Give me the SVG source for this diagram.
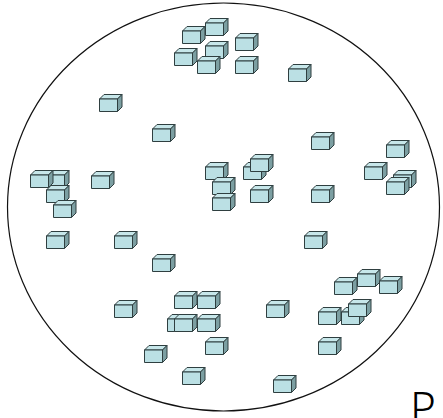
<svg xmlns="http://www.w3.org/2000/svg" xmlns:xlink="http://www.w3.org/1999/xlink" width="443" height="418" viewBox="0 0 443 418">
<style>
.face{fill:#bbe0e4;stroke:#2f3f40;stroke-width:1;stroke-linejoin:round}
.side{fill:#7c9fa2;stroke:#2f3f40;stroke-width:1;stroke-linejoin:round}
.top{fill:#c7e7ea;stroke:#2f3f40;stroke-width:1;stroke-linejoin:round}
.boundary{fill:none;stroke:#111;stroke-width:1.2}
.label{font-family:"Noto Sans","Liberation Sans",sans-serif;font-size:44px;font-weight:300;fill:#000}
</style>
<defs>
<g id="cube">
<polygon class="top" points="0.5,5 5,0.5 23,0.5 18.5,5"/>
<polygon class="side" points="18.5,5 23,0.5 23,13 18.5,17.5"/>
<rect class="face" x="0.5" y="5" width="18" height="12.5"/>
</g>
</defs>
<g id="region">
<ellipse class="boundary" cx="223.5" cy="207" rx="216" ry="204"/>
</g>
<g id="connectors"></g>
<g id="cubes">
<g id="c1"><use xlink:href="#cube" x="182" y="26"/></g>
<g id="c2"><use xlink:href="#cube" x="205" y="18"/></g>
<g id="c3"><use xlink:href="#cube" x="174" y="48"/></g>
<g id="c4"><use xlink:href="#cube" x="205" y="41"/></g>
<g id="c5"><use xlink:href="#cube" x="197" y="56"/></g>
<g id="c6"><use xlink:href="#cube" x="235" y="33"/></g>
<g id="c7"><use xlink:href="#cube" x="235" y="56"/></g>
<g id="c8"><use xlink:href="#cube" x="288" y="64"/></g>
<g id="c9"><use xlink:href="#cube" x="99" y="94"/></g>
<g id="c10"><use xlink:href="#cube" x="152" y="124"/></g>
<g id="c11"><use xlink:href="#cube" x="311" y="132"/></g>
<g id="c12"><use xlink:href="#cube" x="46" y="170"/></g>
<g id="c13"><use xlink:href="#cube" x="30" y="170"/></g>
<g id="c14"><use xlink:href="#cube" x="46" y="185"/></g>
<g id="c15"><use xlink:href="#cube" x="53" y="200"/></g>
<g id="c16"><use xlink:href="#cube" x="91" y="171"/></g>
<g id="c17"><use xlink:href="#cube" x="205" y="162"/></g>
<g id="c18"><use xlink:href="#cube" x="212" y="177"/></g>
<g id="c19"><use xlink:href="#cube" x="212" y="193"/></g>
<g id="c20"><use xlink:href="#cube" x="243" y="162"/></g>
<g id="c21"><use xlink:href="#cube" x="250" y="154"/></g>
<g id="c22"><use xlink:href="#cube" x="250" y="185"/></g>
<g id="c23"><use xlink:href="#cube" x="311" y="185"/></g>
<g id="c24"><use xlink:href="#cube" x="386" y="140"/></g>
<g id="c25"><use xlink:href="#cube" x="364" y="162"/></g>
<g id="c26"><use xlink:href="#cube" x="393" y="170"/></g>
<g id="c27"><use xlink:href="#cube" x="386" y="177"/></g>
<g id="c28"><use xlink:href="#cube" x="46" y="231"/></g>
<g id="c29"><use xlink:href="#cube" x="114" y="231"/></g>
<g id="c30"><use xlink:href="#cube" x="304" y="231"/></g>
<g id="c31"><use xlink:href="#cube" x="152" y="254"/></g>
<g id="c32"><use xlink:href="#cube" x="334" y="277"/></g>
<g id="c33"><use xlink:href="#cube" x="357" y="269"/></g>
<g id="c34"><use xlink:href="#cube" x="379" y="276"/></g>
<g id="c35"><use xlink:href="#cube" x="114" y="300"/></g>
<g id="c36"><use xlink:href="#cube" x="174" y="291"/></g>
<g id="c37"><use xlink:href="#cube" x="197" y="291"/></g>
<g id="c38"><use xlink:href="#cube" x="266" y="300"/></g>
<g id="c39"><use xlink:href="#cube" x="167" y="314"/></g>
<g id="c40"><use xlink:href="#cube" x="174" y="314"/></g>
<g id="c41"><use xlink:href="#cube" x="197" y="314"/></g>
<g id="c42"><use xlink:href="#cube" x="318" y="307"/></g>
<g id="c43"><use xlink:href="#cube" x="341" y="307"/></g>
<g id="c44"><use xlink:href="#cube" x="348" y="299"/></g>
<g id="c45"><use xlink:href="#cube" x="205" y="337"/></g>
<g id="c46"><use xlink:href="#cube" x="318" y="337"/></g>
<g id="c47"><use xlink:href="#cube" x="144" y="345"/></g>
<g id="c48"><use xlink:href="#cube" x="182" y="367"/></g>
<g id="c49"><use xlink:href="#cube" x="273" y="375"/></g>
</g>
<g id="label-p">
<text class="label" x="410" y="424">P</text>
</g>
</svg>
